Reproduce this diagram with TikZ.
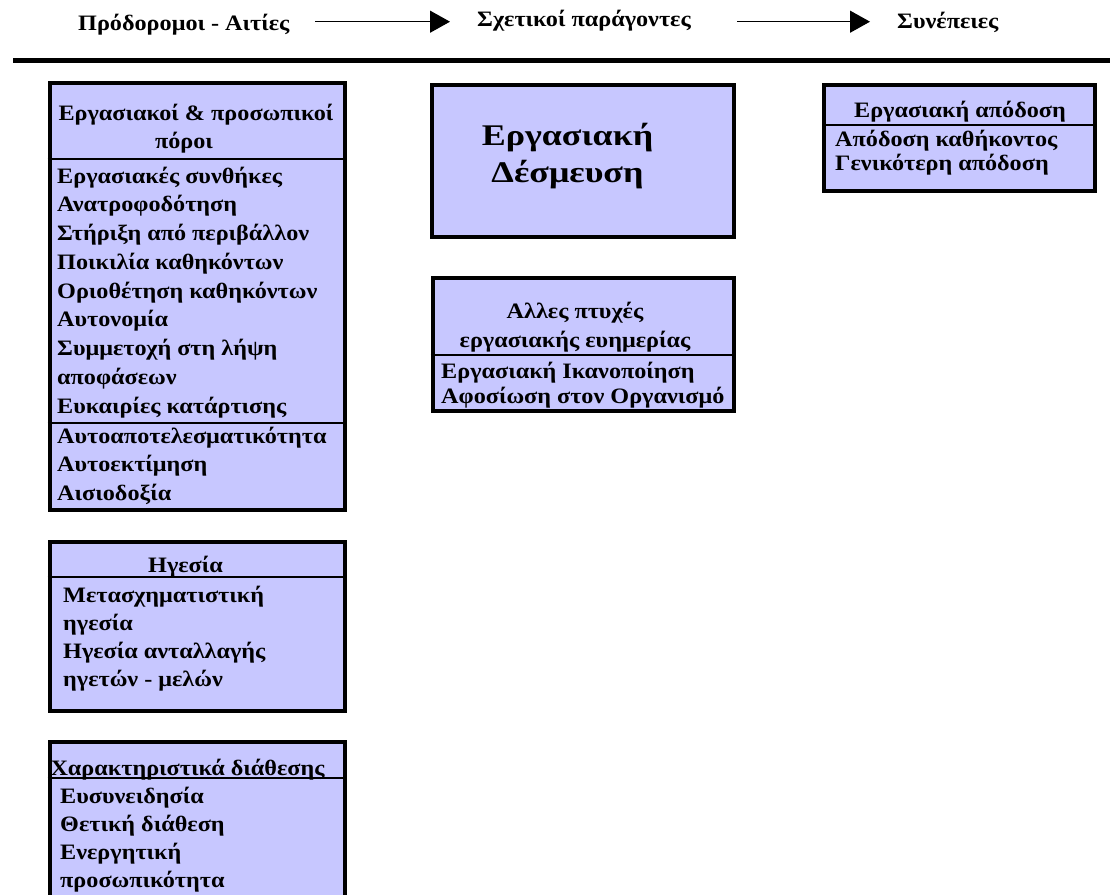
\documentclass[tikz,border=0pt]{standalone}
\usepackage{fontspec}
\setmainfont{Liberation Serif}
\newfontfamily\bodyfont{Liberation Serif}[FakeStretch=1.1]
\newfontfamily\bigfont{Liberation Serif}[FakeStretch=1.2]
\usetikzlibrary{arrows.meta}
\definecolor{boxfill}{RGB}{199,199,255}
\tikzset{
  box/.style={draw=black, line width=4pt, fill=boxfill, inner sep=0pt},
  divider/.style={draw=black, line width=1.3pt},
  txt/.style={inner sep=0pt, font=\bodyfont\fontsize{22}{26}\selectfont\bfseries},
  bigtxt/.style={inner sep=0pt, font=\bigfont\fontsize{30}{36}\selectfont\bfseries},
  headtxt/.style={inner sep=0pt, font=\bodyfont\fontsize{22}{26}\selectfont\bfseries},
  arr/.style={draw=black, line width=1.2pt, -{Triangle[length=20pt,width=22pt]}},
  rule/.style={draw=black, line width=5pt}
}
\begin{document}
\begin{tikzpicture}[x=1pt,y=-1pt]
\clip (0,0) rectangle (1110,894);
\fill[white] (0,0) rectangle (1110,894);

% header
\node[headtxt, anchor=base west] (h1) at (78,30) {Πρόδορομοι - Αιτίες};
\node[headtxt, anchor=base west] (h2) at (477,27) {Σχετικοί παράγοντες};
\node[headtxt, anchor=base west] (h3) at (897,28) {Συνέπειες};
\coordinate (a1s) at (315,21.7);
\coordinate (a1e) at (450,21.7);
\coordinate (a2s) at (737,21.7);
\coordinate (a2e) at (870,21.7);
\draw[arr] (a1s) -- (a1e);
\draw[arr] (a2s) -- (a2e);
\coordinate (r1) at (13,60.5);
\coordinate (r2) at (1110,60.5);
\draw[rule] (r1) -- (r2);

% boxes
\node[box, minimum width=295pt, minimum height=427pt] (res) at (197,296.5) {};
\node[box, minimum width=295pt, minimum height=169pt] (lead) at (197,626) {};
\node[box, minimum width=295pt, minimum height=160pt] (trait) at (197,822) {};
\node[box, minimum width=302pt, minimum height=152.5pt] (eng) at (583,161) {};
\node[box, minimum width=301.5pt, minimum height=133pt] (well) at (583.25,344) {};
\node[box, minimum width=271pt, minimum height=105.5pt] (perf) at (959.5,137.75) {};

% dividers
\coordinate (d1) at (0,159);
\coordinate (d2) at (0,423);
\coordinate (d3) at (0,577);
\coordinate (d4) at (0,778);
\coordinate (d5) at (0,355);
\coordinate (d6) at (0,125);
\draw[divider] (res.west |- d1) -- (res.east |- d1);
\draw[divider] (res.west |- d2) -- (res.east |- d2);
\draw[divider] (lead.west |- d3) -- (lead.east |- d3);
\draw[divider] (trait.west |- d4) -- (trait.east |- d4);
\draw[divider] (well.west |- d5) -- (well.east |- d5);
\draw[divider] (perf.west |- d6) -- (perf.east |- d6);

% resources box
\node[txt, anchor=base] (rest1) at (196,120) {Εργασιακοί \& προσωπικοί};
\node[txt, anchor=base] (rest2) at (184,148) {πόροι};
\foreach \t [count=\i] in {Εργασιακές συνθήκες, Ανατροφοδότηση, Στήριξη από περιβάλλον, Ποικιλία καθηκόντων, Οριοθέτηση καθηκόντων, Αυτονομία, Συμμετοχή στη λήψη, αποφάσεων, Ευκαιρίες κατάρτισης}
  \node[txt, anchor=base west] (resa\i) at (57,{183+28.75*(\i-1)}) {\t};
\foreach \t [count=\i] in {Αυτοαποτελεσματικότητα, Αυτοεκτίμηση, Αισιοδοξία}
  \node[txt, anchor=base west] (resb\i) at (57,{443+28.5*(\i-1)}) {\t};

% leadership box
\node[txt, anchor=base] (leadt) at (185.5,572) {Ηγεσία};
\foreach \t [count=\i] in {Μετασχηματιστική, ηγεσία, Ηγεσία ανταλλαγής, ηγετών - μελών}
  \node[txt, anchor=base west] (leada\i) at (63,{602+28.3*(\i-1)}) {\t};

% traits box
\node[txt, anchor=base] (traitt) at (187.5,775) {Χαρακτηριστικά διάθεσης};
\foreach \t [count=\i] in {Ευσυνειδησία, Θετική διάθεση, Ενεργητική, προσωπικότητα}
  \node[txt, anchor=base west] (traita\i) at (60,{803+28.3*(\i-1)}) {\t};

% engagement box
\node[bigtxt, anchor=base] (engt1) at (567.5,145) {Εργασιακή};
\node[bigtxt, anchor=base] (engt2) at (567.5,182) {Δέσμευση};

% well-being box
\node[txt, anchor=base] (wellt1) at (575,318) {Αλλες πτυχές};
\node[txt, anchor=base] (wellt2) at (575,347) {εργασιακής ευημερίας};
\node[txt, anchor=base west] (wella1) at (441,378) {Εργασιακή Ικανοποίηση};
\node[txt, anchor=base west] (wella2) at (441,403) {Αφοσίωση στον Οργανισμό};

% performance box
\node[txt, anchor=base] (perft) at (960,117) {Εργασιακή απόδοση};
\node[txt, anchor=base west] (perfa1) at (835,146) {Απόδοση καθήκοντος};
\node[txt, anchor=base west] (perfa2) at (835,170) {Γενικότερη απόδοση};
\end{tikzpicture}
\end{document}
